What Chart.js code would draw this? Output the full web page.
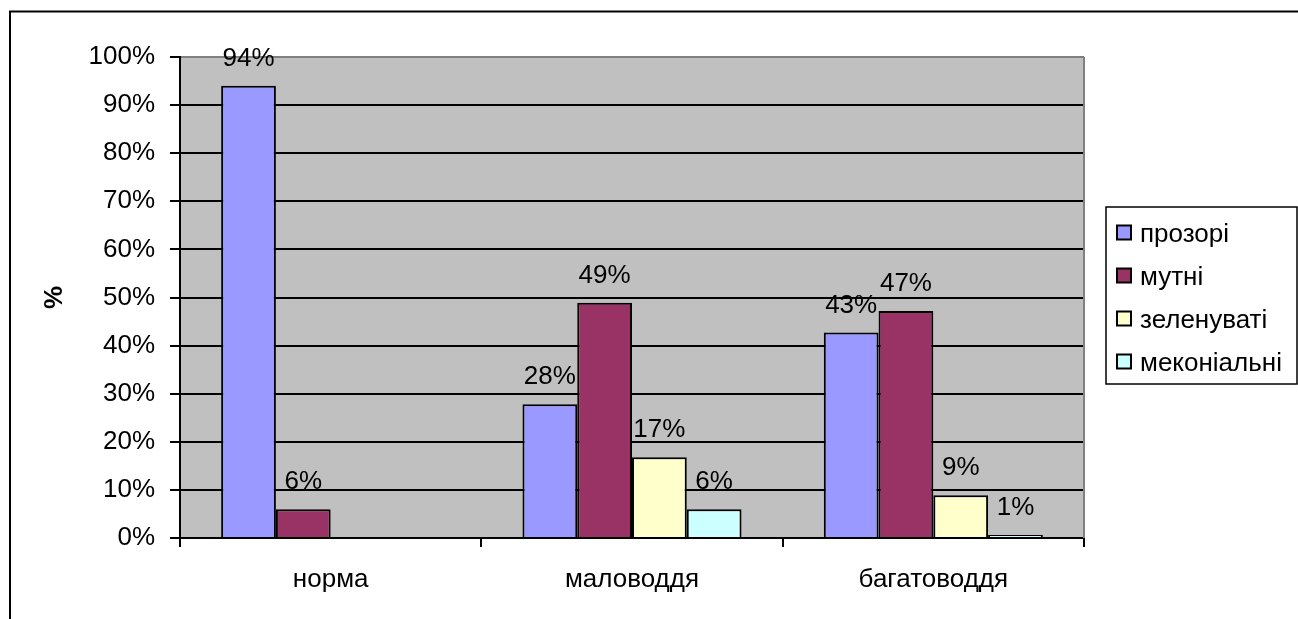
<!DOCTYPE html>
<html>
<head>
<meta charset="utf-8">
<script src="https://cdn.jsdelivr.net/npm/chart.js@4.4.0/dist/chart.umd.min.js"></script>
<style>
  html, body { margin: 0; padding: 0; background: #fff; }
  canvas { display: block; }
</style>
</head>
<body>
<canvas id="c" width="1298" height="619"></canvas>
<script>
const categories = ['норма', 'маловоддя', 'багатоводдя'];
const seriesNames = ['прозорі', 'мутні', 'зеленуваті', 'меконіальні'];
const prozori = [94.0, 27.8, 42.7];
const mutni = [6.0, 48.9, 47.2];
const zelenuvati = [null, 16.8, 8.9];
const mekonialni = [null, 6.0, 0.6];
const seriesColors = ['#9999FF', '#993366', '#FFFFCC', '#CCFFFF'];
const yTickValues = [0, 10, 20, 30, 40, 50, 60, 70, 80, 90, 100];

const FONT = 'Liberation Sans, Arial, sans-serif';
Chart.defaults.font.family = FONT;
Chart.defaults.color = '#000';

const seriesValues = [prozori, mutni, zelenuvati, mekonialni];

const decor = {
  id: 'decor',
  beforeDraw(chart) {
    const { ctx, chartArea: a } = chart;
    ctx.save();
    ctx.fillStyle = '#fff';
    ctx.fillRect(0, 0, chart.width, chart.height);
    ctx.fillStyle = '#C0C0C0';
    ctx.fillRect(a.left, a.top, a.right - a.left, a.bottom - a.top);
    ctx.restore();
  },
  afterDatasetsDraw(chart) {
    const { ctx, chartArea: a } = chart;
    ctx.save();
    ctx.strokeStyle = '#808080';
    ctx.lineWidth = 2;
    ctx.beginPath();
    ctx.moveTo(a.right, a.top);
    ctx.lineTo(a.right, a.bottom);
    ctx.stroke();
    ctx.fillStyle = '#000';
    ctx.font = '26px ' + FONT;
    ctx.textAlign = 'center';
    ctx.textBaseline = 'alphabetic';
    chart.data.datasets.forEach((ds, i) => {
      const meta = chart.getDatasetMeta(i);
      meta.data.forEach((el, j) => {
        const v = ds.data[j];
        if (v === null || v === undefined) return;
        ctx.fillText(Math.round(v) + '%', el.x, el.y - 20);
      });
    });
    ctx.restore();
  },
  afterDraw(chart) {
    const { ctx } = chart;
    ctx.save();
    ctx.strokeStyle = '#000';
    ctx.lineWidth = 2;
    ctx.beginPath();
    ctx.moveTo(10, 700);
    ctx.lineTo(10, 11.5);
    ctx.lineTo(1400, 11.5);
    ctx.stroke();
    const lx = 1106, ly = 207, lw = 191, lh = 177;
    ctx.fillStyle = '#fff';
    ctx.fillRect(lx, ly, lw, lh);
    ctx.lineWidth = 1.5;
    ctx.strokeRect(lx, ly, lw, lh);
    ctx.font = '26px ' + FONT;
    ctx.textAlign = 'left';
    ctx.textBaseline = 'middle';
    chart.data.datasets.forEach((ds, i) => {
      const cy = 232.5 + i * 43;
      ctx.fillStyle = ds.backgroundColor;
      ctx.fillRect(1117, cy - 7, 14, 14);
      ctx.strokeStyle = '#000';
      ctx.lineWidth = 2;
      ctx.strokeRect(1117, cy - 7, 14, 14);
      ctx.fillStyle = '#000';
      ctx.fillText(ds.label, 1140, cy + 2);
    });
    ctx.restore();
  }
};

new Chart(document.getElementById('c'), {
  type: 'bar',
  data: {
    labels: categories,
    datasets: seriesNames.map((name, i) => ({
      label: name,
      data: seriesValues[i],
      backgroundColor: seriesColors[i],
      borderColor: '#000',
      borderWidth: 2,
      categoryPercentage: 0.727,
      barPercentage: 1.0
    }))
  },
  options: {
    responsive: false,
    devicePixelRatio: 1,
    animation: false,
    layout: { padding: { left: 10, top: 57, right: 214, bottom: 0 } },
    plugins: { legend: { display: false }, tooltip: { enabled: false } },
    scales: {
      x: {
        grid: {
          offset: true,
          drawOnChartArea: false,
          drawTicks: true,
          tickLength: 9,
          tickColor: '#000',
          lineWidth: 2
        },
        border: { color: '#000', width: 2 },
        ticks: { font: { size: 26 }, color: '#000', padding: 17, maxRotation: 0 },
        afterFit: s => { s.height = 81; }
      },
      y: {
        min: 0,
        max: 100,
        afterBuildTicks: s => { s.ticks = yTickValues.map(v => ({ value: v })); },
        ticks: { font: { size: 26 }, color: '#000', padding: 15, callback: v => v + '%' },
        grid: {
          color: c => (c.tick && c.tick.value === 100) ? '#808080' : '#000',
          lineWidth: 2,
          tickLength: 10,
          tickColor: '#000'
        },
        border: { color: '#000', width: 2 },
        title: { display: true, text: '%', font: { size: 26, weight: 'bold' }, color: '#000', padding: { top: 29, bottom: 0 } },
        afterFit: s => { s.width = 170; }
      }
    }
  },
  plugins: [decor]
});
</script>
</body>
</html>
